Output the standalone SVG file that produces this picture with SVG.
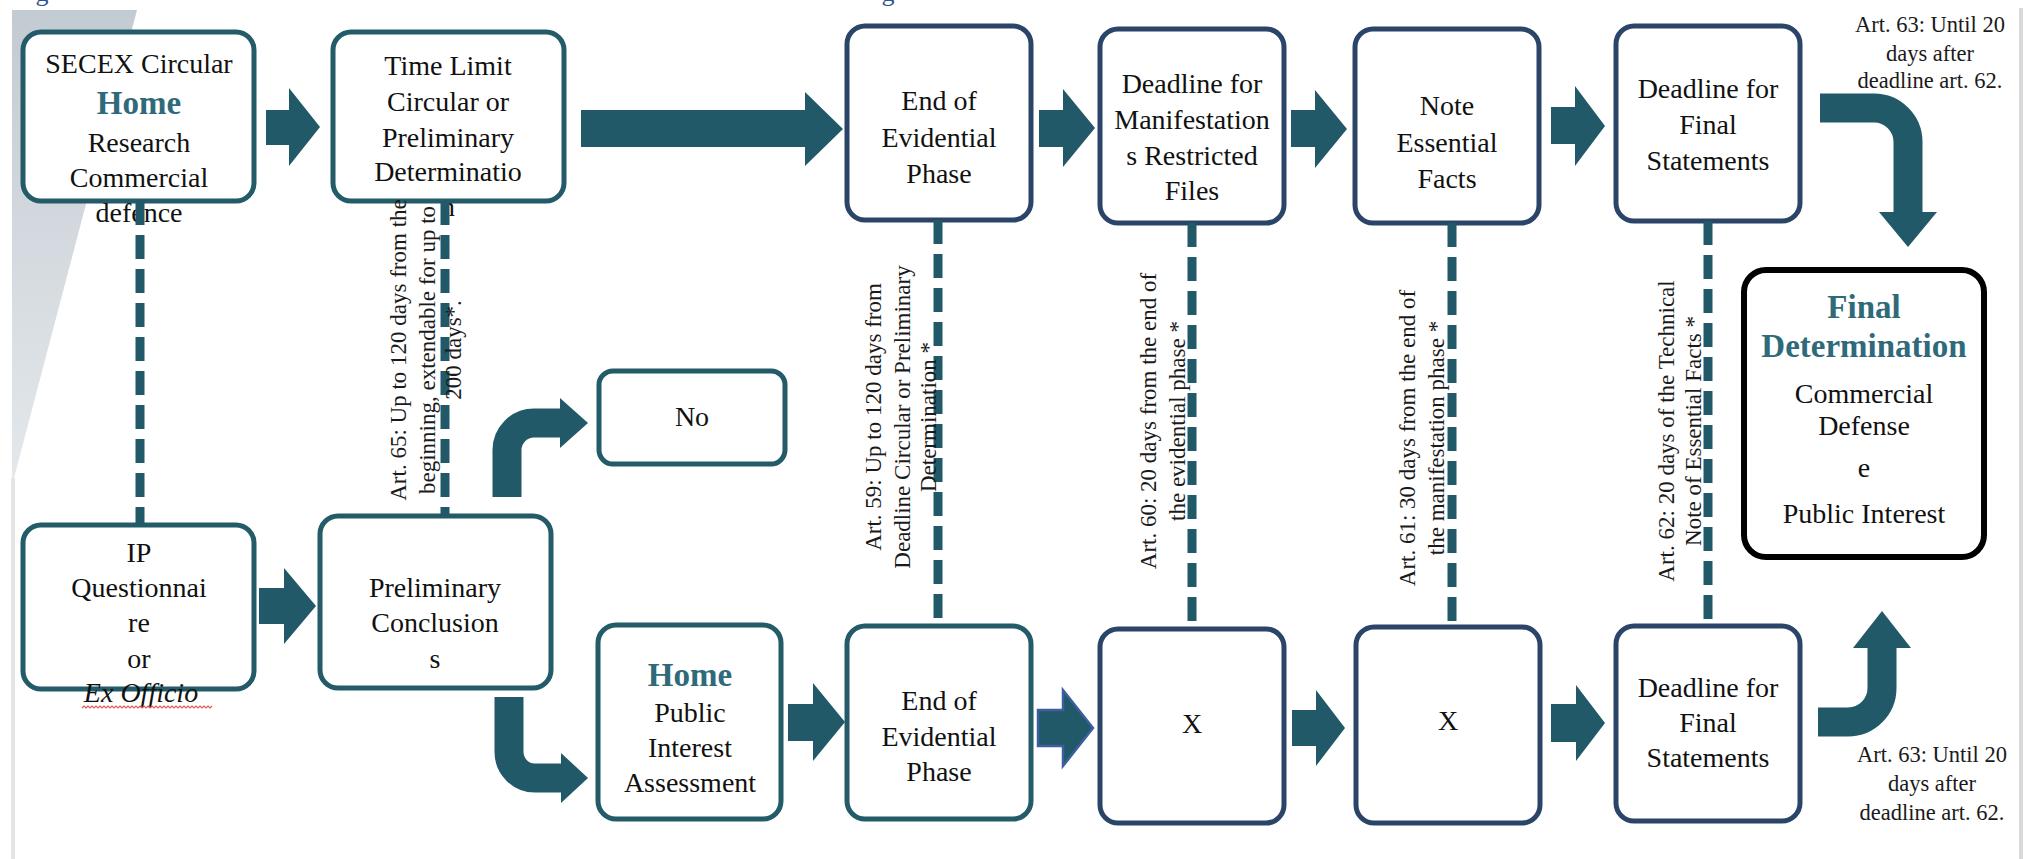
<svg xmlns="http://www.w3.org/2000/svg" width="2033" height="859" viewBox="0 0 2033 859">
<defs>
<linearGradient id="gband" x1="0" y1="0" x2="0" y2="1">
<stop offset="0" stop-color="#c3cbd2"/>
<stop offset="1" stop-color="#e4e8eb"/>
</linearGradient>
<style>
.box{fill:#fff;stroke-width:5}
.teal{stroke:#235b69}
.navy{stroke:#2b4568}
.t{font-family:"Liberation Serif","Times New Roman",serif;font-size:28px;fill:#111;text-anchor:middle}
.home{font-weight:bold;fill:#2f6a7a;font-size:33px}
.lbl{font-family:"Liberation Serif","Times New Roman",serif;font-size:23px;fill:#1a1a1a;text-anchor:middle}
.note{font-family:"Liberation Serif","Times New Roman",serif;font-size:22.5px;fill:#1a1a1a;text-anchor:middle}
.dash{stroke:#215968;stroke-width:9;stroke-dasharray:24 10;fill:none}
.arrow{fill:#215968}
.bent{fill:none;stroke:#215968;stroke-width:29}
</style>
</defs>
<rect width="2033" height="859" fill="#fff"/>
<g id="background">
<polygon points="12,10 137,10 14,478 12,478" fill="url(#gband)"/>
<rect x="11" y="478" width="4" height="381" fill="#e2e4e6"/>
<rect x="2019" y="8" width="4" height="851" fill="#d9d9d9"/>
<text x="42" y="1" font-family="Liberation Serif, serif" font-size="26" fill="#2f5496" text-anchor="middle">g</text>
<text x="888" y="1" font-family="Liberation Serif, serif" font-size="26" fill="#2f5496" text-anchor="middle">g</text>
</g>

<g id="n-secex">
<rect class="box teal" x="23" y="32" width="231" height="169" rx="18"/>
<text class="t" x="139" y="73">SECEX Circular</text>
<text class="t home" x="139" y="114">Home</text>
<text class="t" x="139" y="152">Research</text>
<text class="t" x="139" y="187">Commercial</text>
<text class="t" x="139" y="222">defence</text>
</g>
<g id="n-timelimit">
<rect class="box teal" x="333" y="32" width="231" height="169" rx="18"/>
<text class="t" x="448" y="75">Time Limit</text>
<text class="t" x="448" y="111">Circular or</text>
<text class="t" x="448" y="147">Preliminary</text>
<text class="t" x="448" y="181">Determinatio</text>
<text class="t" x="448" y="216">n</text>
</g>
<g id="n-end-top">
<rect class="box navy" x="847" y="26" width="184" height="194" rx="18"/>
<text class="t" x="939" y="110">End of</text>
<text class="t" x="939" y="147">Evidential</text>
<text class="t" x="939" y="183">Phase</text>
</g>
<g id="n-manifest">
<rect class="box navy" x="1100" y="29" width="184" height="194" rx="18"/>
<text class="t" x="1192" y="93">Deadline for</text>
<text class="t" x="1192" y="129">Manifestation</text>
<text class="t" x="1192" y="165">s Restricted</text>
<text class="t" x="1192" y="200">Files</text>
</g>
<g id="n-note">
<rect class="box navy" x="1355" y="29" width="184" height="194" rx="18"/>
<text class="t" x="1447" y="115">Note</text>
<text class="t" x="1447" y="152">Essential</text>
<text class="t" x="1447" y="188">Facts</text>
</g>
<g id="n-final-top">
<rect class="box navy" x="1616" y="26" width="184" height="195" rx="18"/>
<text class="t" x="1708" y="98">Deadline for</text>
<text class="t" x="1708" y="134">Final</text>
<text class="t" x="1708" y="170">Statements</text>
</g>
<g id="n-ip">
<rect class="box teal" x="23" y="525" width="231" height="164" rx="18"/>
<text class="t" x="139" y="562">IP</text>
<text class="t" x="139" y="597">Questionnai</text>
<text class="t" x="139" y="632">re</text>
<text class="t" x="139" y="668">or</text>
<text class="t" x="141" y="702" font-style="italic">Ex Officio</text>
<path d="M82 708 l2 -2 l2 2 l2 -2 l2 2 l2 -2 l2 2 l2 -2 l2 2 l2 -2 l2 2 l2 -2 l2 2 l2 -2 l2 2 l2 -2 l2 2 l2 -2 l2 2 l2 -2 l2 2 l2 -2 l2 2 l2 -2 l2 2 l2 -2 l2 2 l2 -2 l2 2 l2 -2 l2 2 l2 -2 l2 2 l2 -2 l2 2 l2 -2 l2 2 l2 -2 l2 2 l2 -2 l2 2 l2 -2 l2 2 l2 -2 l2 2 l2 -2 l2 2 l2 -2 l2 2 l2 -2 l2 2 l2 -2 l2 2 l2 -2 l2 2 l2 -2 l2 2 l2 -2 l2 2 l2 -2 l2 2 l2 -2 l2 2 l2 -2 l2 2 l2 -2" fill="none" stroke="#e05a5a" stroke-width="1.2"/>
</g>
<g id="n-prelim">
<rect class="box teal" x="320" y="516" width="231" height="172" rx="18"/>
<text class="t" x="435" y="597">Preliminary</text>
<text class="t" x="435" y="632">Conclusion</text>
<text class="t" x="435" y="668">s</text>
</g>
<g id="n-no">
<rect class="box teal" x="599" y="371" width="186" height="93" rx="14"/>
<text class="t" x="692" y="426">No</text>
</g>
<g id="n-home-pi">
<rect class="box teal" x="598" y="625" width="183" height="194" rx="18"/>
<text class="t home" x="690" y="686">Home</text>
<text class="t" x="690" y="722">Public</text>
<text class="t" x="690" y="757">Interest</text>
<text class="t" x="690" y="792">Assessment</text>
</g>
<g id="n-end-bottom">
<rect class="box teal" x="847" y="626" width="184" height="193" rx="18"/>
<text class="t" x="939" y="710">End of</text>
<text class="t" x="939" y="746">Evidential</text>
<text class="t" x="939" y="781">Phase</text>
</g>
<g id="n-x1">
<rect class="box navy" x="1100" y="629" width="184" height="194" rx="18"/>
<text class="t" x="1192" y="733">X</text>
</g>
<g id="n-x2">
<rect class="box navy" x="1356" y="627" width="184" height="196" rx="18"/>
<text class="t" x="1448" y="730">X</text>
</g>
<g id="n-final-bottom">
<rect class="box navy" x="1616" y="626" width="184" height="195" rx="18"/>
<text class="t" x="1708" y="697">Deadline for</text>
<text class="t" x="1708" y="732">Final</text>
<text class="t" x="1708" y="767">Statements</text>
</g>
<g id="n-final-determination">
<rect x="1744" y="270" width="240" height="287" rx="22" fill="#fff" stroke="#000" stroke-width="6"/>
<text class="t home" x="1864" y="318" font-size="31">Final</text>
<text class="t home" x="1864" y="357" font-size="31">Determination</text>
<text class="t" x="1864" y="403" font-size="26">Commercial</text>
<text class="t" x="1864" y="435" font-size="26">Defense</text>
<text class="t" x="1864" y="477" font-size="26">e</text>
<text class="t" x="1864" y="523" font-size="26">Public Interest</text>
</g>

<g id="connectors">
<line class="dash" x1="140" y1="201" x2="140" y2="525"/>
<line class="dash" x1="445" y1="201" x2="445" y2="516"/>
<line class="dash" x1="938" y1="220" x2="938" y2="626"/>
<line class="dash" x1="1192" y1="223" x2="1192" y2="629"/>
<line class="dash" x1="1452" y1="223" x2="1452" y2="627"/>
<line class="dash" x1="1708" y1="221" x2="1708" y2="626"/>
<polygon class="arrow" points="266,110 289,110 289,88 320,127 289,166 289,145 266,145"/>
<polygon class="arrow" points="581,110 805,110 805,92 843,129 805,166 805,147 581,147"/>
<polygon class="arrow" points="1039,110 1063,110 1063,89 1095,128 1063,167 1063,147 1039,147"/>
<polygon class="arrow" points="1291,110 1315,110 1315,90 1347,129 1315,168 1315,147 1291,147"/>
<polygon class="arrow" points="1551,107 1575,107 1575,86 1605,126 1575,166 1575,144 1551,144"/>
<polygon class="arrow" points="259,588 284,588 284,568 316,606 284,644 284,624 259,624"/>
<polygon class="arrow" points="788,704 813,704 813,683 845,722 813,761 813,741 788,741"/>
<polygon class="arrow" points="1038,710 1063,710 1063,690 1093,728 1063,766 1063,746 1038,746" stroke="#3d5fa0" stroke-width="2.5"/>
<polygon class="arrow" points="1292,710 1316,710 1316,690 1345,728 1316,766 1316,746 1292,746"/>
<polygon class="arrow" points="1551,704 1576,704 1576,685 1605,723 1576,761 1576,742 1551,742"/>
<path class="bent" d="M509 697 V752 A26 26 0 0 0 535 778 H563"/>
<polygon class="arrow" points="561,753 588,778 561,803"/>
<path class="bent" d="M507 497 V450 A27 27 0 0 1 534 423 H562"/>
<polygon class="arrow" points="560,398 588,423 560,448"/>
<path class="bent" d="M1820 108 H1874 A34 34 0 0 1 1908 142 V214"/>
<polygon class="arrow" points="1879,212 1937,212 1908,247"/>
<path class="bent" d="M1818 722 H1848 A34 34 0 0 0 1882 688 V648"/>
<polygon class="arrow" points="1853,648 1911,648 1882,611"/>
</g>

<g id="labels">
<text class="lbl" transform="translate(406,350) rotate(-90)">Art. 65: Up to 120 days from the</text>
<text class="lbl" transform="translate(435,350) rotate(-90)">beginning, extendable for up to</text>
<text class="lbl" transform="translate(461,350) rotate(-90)">200 days*.</text>
<text class="lbl" transform="translate(881,417) rotate(-90)">Art. 59: Up to 120 days from</text>
<text class="lbl" transform="translate(910,417) rotate(-90)">Deadline Circular or Preliminary</text>
<text class="lbl" transform="translate(936,417) rotate(-90)">Determination *</text>
<text class="lbl" transform="translate(1156,421) rotate(-90)">Art. 60: 20 days from the end of</text>
<text class="lbl" transform="translate(1185,421) rotate(-90)">the evidential phase *</text>
<text class="lbl" transform="translate(1415,438) rotate(-90)">Art. 61: 30 days from the end of</text>
<text class="lbl" transform="translate(1444,438) rotate(-90)">the manifestation phase *</text>
<text class="lbl" transform="translate(1674,431) rotate(-90)">Art. 62: 20 days of the Technical</text>
<text class="lbl" transform="translate(1701,431) rotate(-90)">Note of Essential Facts *</text>
<text class="note" x="1930" y="32">Art. 63: Until 20</text>
<text class="note" x="1930" y="61">days after</text>
<text class="note" x="1930" y="88">deadline art. 62.</text>
<text class="note" x="1932" y="762">Art. 63: Until 20</text>
<text class="note" x="1932" y="791">days after</text>
<text class="note" x="1932" y="820">deadline art. 62.</text>
</g>
</svg>
